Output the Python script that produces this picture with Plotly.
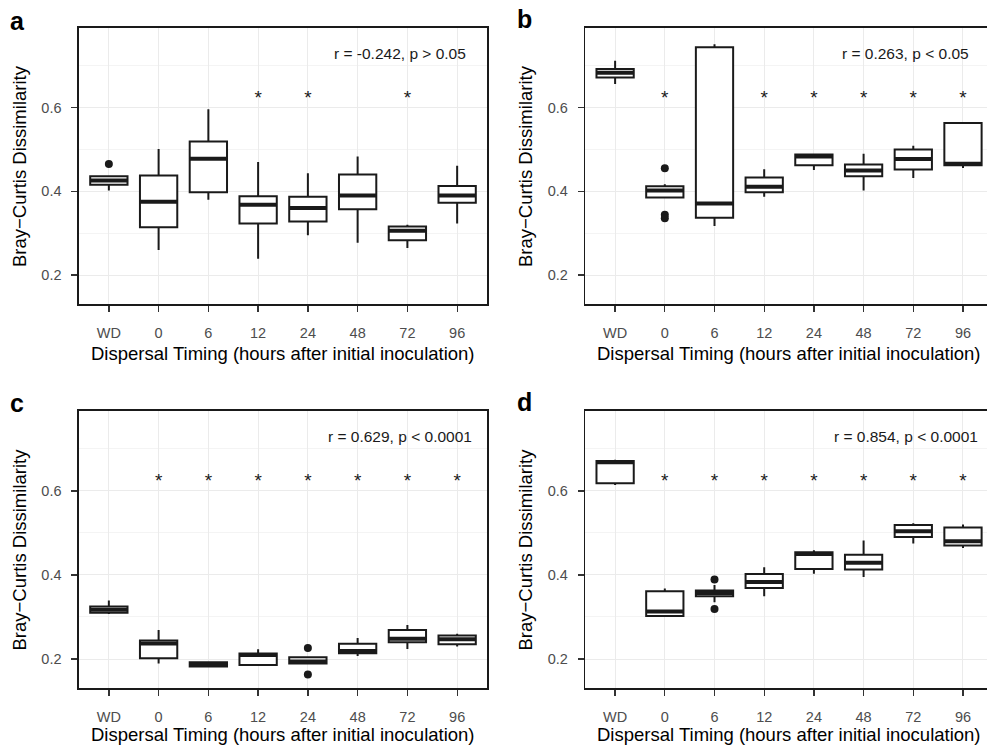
import plotly.graph_objects as go

categories = ["WD", "0", "6", "12", "24", "48", "72", "96"]

# Panel a
a_q1 = [0.416, 0.314, 0.398, 0.323, 0.328, 0.357, 0.283, 0.373]
a_med = [0.426, 0.375, 0.478, 0.368, 0.360, 0.390, 0.306, 0.390]
a_q3 = [0.436, 0.438, 0.519, 0.388, 0.387, 0.440, 0.316, 0.413]
a_lo = [0.402, 0.260, 0.380, 0.239, 0.295, 0.277, 0.265, 0.323]
a_hi = [0.436, 0.501, 0.596, 0.470, 0.443, 0.483, 0.320, 0.461]
a_out_cat = ["WD"]
a_out_val = [0.465]
a_stars = ["12", "24", "72"]
a_label = "r = -0.242, p > 0.05"

# Panel b
b_q1 = [0.672, 0.385, 0.337, 0.398, 0.462, 0.436, 0.452, 0.462]
b_med = [0.683, 0.402, 0.371, 0.411, 0.483, 0.450, 0.477, 0.466]
b_q3 = [0.692, 0.412, 0.744, 0.433, 0.488, 0.464, 0.500, 0.563]
b_lo = [0.656, 0.385, 0.317, 0.387, 0.451, 0.402, 0.432, 0.456]
b_hi = [0.712, 0.417, 0.751, 0.453, 0.490, 0.490, 0.509, 0.564]
b_out_cat = ["0", "0", "0"]
b_out_val = [0.455, 0.344, 0.336]
b_stars = ["0", "12", "24", "48", "72", "96"]
b_label = "r = 0.263, p < 0.05"

# Panel c
c_q1 = [0.310, 0.202, 0.182, 0.186, 0.189, 0.2135, 0.240, 0.235]
c_med = [0.317, 0.237, 0.1865, 0.2095, 0.194, 0.219, 0.248, 0.247]
c_q3 = [0.325, 0.244, 0.192, 0.213, 0.204, 0.236, 0.269, 0.256]
c_lo = [0.307, 0.189, 0.181, 0.186, 0.189, 0.207, 0.224, 0.230]
c_hi = [0.339, 0.269, 0.193, 0.223, 0.204, 0.250, 0.281, 0.260]
c_out_cat = ["24", "24"]
c_out_val = [0.226, 0.163]
c_stars = ["0", "6", "12", "24", "48", "72", "96"]
c_label = "r = 0.629, p < 0.0001"

# Panel d
d_q1 = [0.618, 0.302, 0.349, 0.369, 0.414, 0.413, 0.490, 0.470]
d_med = [0.668, 0.313, 0.357, 0.383, 0.450, 0.429, 0.504, 0.480]
d_q3 = [0.671, 0.361, 0.363, 0.402, 0.454, 0.448, 0.519, 0.513]
d_lo = [0.614, 0.300, 0.335, 0.349, 0.403, 0.395, 0.475, 0.464]
d_hi = [0.674, 0.368, 0.376, 0.418, 0.459, 0.482, 0.523, 0.520]
d_out_cat = ["6", "6"]
d_out_val = [0.389, 0.319]
d_stars = ["0", "6", "12", "24", "48", "72", "96"]
d_label = "r = 0.854, p < 0.0001"

y_ticks = [0.2, 0.4, 0.6]
star_y = 0.621
label_pos = (5.85, 0.73)

W, H = 987, 746
FONT = "Liberation Sans, Arial, sans-serif"
BOX_W = 0.75

panels = [
    dict(name="a", q1=a_q1, med=a_med, q3=a_q3, lo=a_lo, hi=a_hi, oc=a_out_cat, ov=a_out_val,
         stars=a_stars, label=a_label, xd=[79 / W, 487 / W], yd=[1 - 304 / H, 1 - 28 / H],
         xr=[-0.6, 7.6], full=True),
    dict(name="b", q1=b_q1, med=b_med, q3=b_q3, lo=b_lo, hi=b_hi, oc=b_out_cat, ov=b_out_val,
         stars=b_stars, label=b_label, xd=[585.3 / W, 1.0], yd=[1 - 304 / H, 1 - 28 / H],
         xr=[-0.6, 7 + (987 - 963) / 49.67], full=False),
    dict(name="c", q1=c_q1, med=c_med, q3=c_q3, lo=c_lo, hi=c_hi, oc=c_out_cat, ov=c_out_val,
         stars=c_stars, label=c_label, xd=[79 / W, 487 / W], yd=[1 - 688 / H, 1 - 411 / H],
         xr=[-0.6, 7.6], full=True),
    dict(name="d", q1=d_q1, med=d_med, q3=d_q3, lo=d_lo, hi=d_hi, oc=d_out_cat, ov=d_out_val,
         stars=d_stars, label=d_label, xd=[585.3 / W, 1.0], yd=[1 - 688 / H, 1 - 411 / H],
         xr=[-0.6, 7 + (987 - 963) / 49.67], full=False),
]

fig = go.Figure()
layout = dict(width=W, height=H, margin=dict(l=0, r=0, t=0, b=0),
              paper_bgcolor="white", plot_bgcolor="white", showlegend=False,
              font=dict(family=FONT, color="#333333"))
annotations = []
idx = {c: i for i, c in enumerate(categories)}
pos = list(range(len(categories)))

# panel label / title pixel positions
label_px = {"a": (17, 21), "b": (524, 19), "c": (17, 403), "d": (524, 402)}
ytitle_px = {"a": (19, 166), "b": (525, 166), "c": (19, 549.5), "d": (525, 549.5)}
xtitle_px = {"a": (283, 353), "b": (789, 353), "c": (283, 734), "d": (789, 734)}

for k, p in enumerate(panels):
    n = "" if k == 0 else str(k + 1)
    xa, ya = "x" + n, "y" + n
    fig.add_trace(go.Box(
        x=pos, q1=p["q1"], median=p["med"], q3=p["q3"], lowerfence=p["lo"], upperfence=p["hi"],
        width=BOX_W, whiskerwidth=0, fillcolor="white", boxpoints=False,
        line=dict(color="#1a1a1a", width=2), xaxis=xa, yaxis=ya, hoverinfo="skip"))
    # thick medians
    mx, my = [], []
    for i, m in zip(pos, p["med"]):
        mx += [i - BOX_W / 2, i + BOX_W / 2, None]
        my += [m, m, None]
    fig.add_trace(go.Scatter(x=mx, y=my, mode="lines", line=dict(color="#1a1a1a", width=4),
                             xaxis=xa, yaxis=ya, hoverinfo="skip"))
    # outliers
    fig.add_trace(go.Scatter(x=[idx[c] for c in p["oc"]], y=p["ov"], mode="markers",
                             marker=dict(color="#1a1a1a", size=8), xaxis=xa, yaxis=ya,
                             hoverinfo="skip"))
    # stars
    fig.add_trace(go.Scatter(x=[idx[c] for c in p["stars"]], y=[star_y] * len(p["stars"]),
                             mode="text", text=["*"] * len(p["stars"]),
                             textfont=dict(family=FONT, size=19, color="#1a1a1a"),
                             xaxis=xa, yaxis=ya, hoverinfo="skip", cliponaxis=False))

    layout["xaxis" + n] = dict(
        domain=p["xd"], range=p["xr"], anchor=ya, tickmode="array", tickvals=pos,
        ticktext=categories, showgrid=True, gridcolor="#ebebeb", gridwidth=1,
        zeroline=False, showline=True, mirror=True, linecolor="#1a1a1a", linewidth=1.6,
        ticks="outside", ticklen=6, tickwidth=1.3, tickcolor="#333333",
        ticklabelstandoff=9, tickfont=dict(family=FONT, size=14.5, color="#4d4d4d"))
    layout["yaxis" + n] = dict(
        domain=p["yd"], range=[0.131, 0.790], anchor=xa, tickmode="array", tickvals=y_ticks,
        ticktext=["0.2", "0.4", "0.6"], showgrid=True, gridcolor="#ebebeb", gridwidth=1,
        minor=dict(tickmode="array", tickvals=[0.3, 0.5, 0.7], showgrid=True,
                   gridcolor="#f4f4f4", gridwidth=1, ticks=""),
        zeroline=False, showline=True, mirror=p["full"], linecolor="#1a1a1a", linewidth=1.6,
        ticks="outside", ticklen=6, tickwidth=1.3, tickcolor="#333333",
        ticklabelstandoff=7, tickfont=dict(family=FONT, size=14.5, color="#4d4d4d"))

    annotations.append(dict(xref=xa, yref=ya, x=label_pos[0], y=label_pos[1], text=p["label"],
                            showarrow=False, font=dict(family=FONT, size=15.5, color="#1a1a1a"),
                            xanchor="center", yanchor="middle"))
    lx, ly = label_px[p["name"]]
    annotations.append(dict(xref="paper", yref="paper", x=lx / W, y=1 - ly / H, text="<b>%s</b>" % p["name"],
                            showarrow=False, font=dict(family=FONT, size=25, color="#000000"),
                            xanchor="center", yanchor="middle"))
    tx, ty = ytitle_px[p["name"]]
    annotations.append(dict(xref="paper", yref="paper", x=tx / W, y=1 - ty / H,
                            text="Bray−Curtis Dissimilarity", textangle=-90, showarrow=False,
                            font=dict(family=FONT, size=18.5, color="#000000"),
                            xanchor="center", yanchor="middle"))
    tx, ty = xtitle_px[p["name"]]
    annotations.append(dict(xref="paper", yref="paper", x=tx / W, y=1 - ty / H,
                            text="Dispersal Timing (hours after initial inoculation)", showarrow=False,
                            font=dict(family=FONT, size=18.5, color="#000000"), borderpad=0,
                            xanchor="center", yanchor="middle"))

layout["annotations"] = annotations
fig.update_layout(**layout)
fig.write_html("out.html", config={"displayModeBar": False, "staticPlot": True},
               post_script="document.body.style.margin='0';document.body.style.overflow='hidden';")
